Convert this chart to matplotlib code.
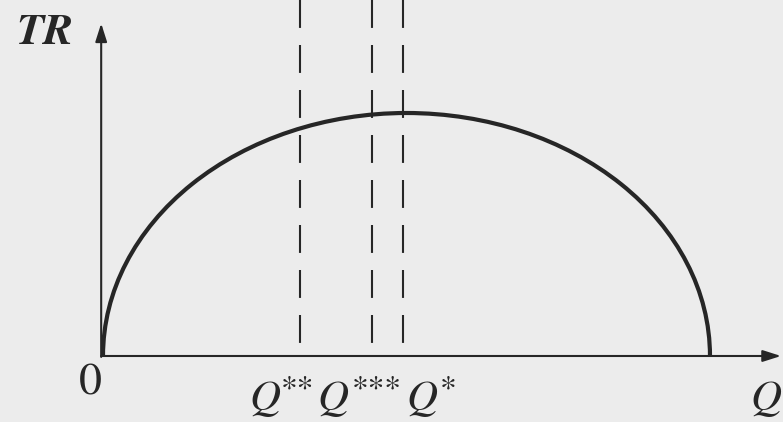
import matplotlib
matplotlib.use("Agg")
import matplotlib.pyplot as plt
from matplotlib.patches import Arc

# ---- data ----
q_zero_revenue = 10.0        # Q where TR returns to zero
tr_max = 8.0                 # peak total revenue
q_peak = 5.0                 # Q at the peak
dashed_q = [3.25, 4.43, 4.95]                  # Q**, Q***, Q*
dashed_stars = ["**", "***", "*"]
label_left_q = [2.40, 3.52, 4.99]              # left edge of each Q
star_left_q = [2.93, 4.10, 5.55]               # left edge of the stars

plt.rcParams["mathtext.fontset"] = "stix"
plt.rcParams["font.family"] = ["STIXGeneral", "DejaVu Serif"]

bg = "#ececec"
ink = "#262626"

fig = plt.figure(figsize=(7.83, 4.22), dpi=100, facecolor=bg)
ax = fig.add_axes([0, 0, 1, 1])
ax.set_facecolor(bg)
ax.set_xlim(-1.697, 11.203)
ax.set_ylim(-2.173, 11.72)
ax.axis("off")

# axes with arrows
ax.annotate("", xy=(11.17, 0), xytext=(-0.03, 0),
            arrowprops=dict(arrowstyle="-|>,head_length=1.1,head_width=0.35",
                            color=ink, lw=1.5, shrinkA=0, shrinkB=0))
ax.annotate("", xy=(-0.03, 10.95), xytext=(-0.03, -0.03),
            arrowprops=dict(arrowstyle="-|>,head_length=1.1,head_width=0.35",
                            color=ink, lw=1.5, shrinkA=0, shrinkB=0))

# TR curve (half ellipse)
arc = Arc((q_peak, 0), width=q_zero_revenue, height=2 * tr_max,
          theta1=0, theta2=180, color=ink, lw=3.0)
ax.add_patch(arc)

# dashed verticals
top = ax.get_ylim()[1]
for q in dashed_q:
    ax.plot([q, q], [top, 0], color=ink, lw=1.5, dashes=(13.4, 8.2))

# labels
ax.text(-0.21, -0.92, "0", fontsize=33, ha="center", va="center", color=ink)
for ql, sl, st in zip(label_left_q, star_left_q, dashed_stars):
    ax.text(ql, -1.78, r"$Q$", fontsize=31, ha="left", va="baseline", color=ink)
    ax.text(sl, -1.35, st, fontsize=24, ha="left", va="baseline", color=ink)
ax.text(10.66, -1.78, r"$Q$", fontsize=31, ha="left", va="baseline", color=ink)
ax.text(-1.42, 10.6, "TR", fontsize=32, ha="left", va="center",
        style="italic", weight="bold", color=ink)

fig.savefig("out.png", dpi=100, facecolor=bg)
